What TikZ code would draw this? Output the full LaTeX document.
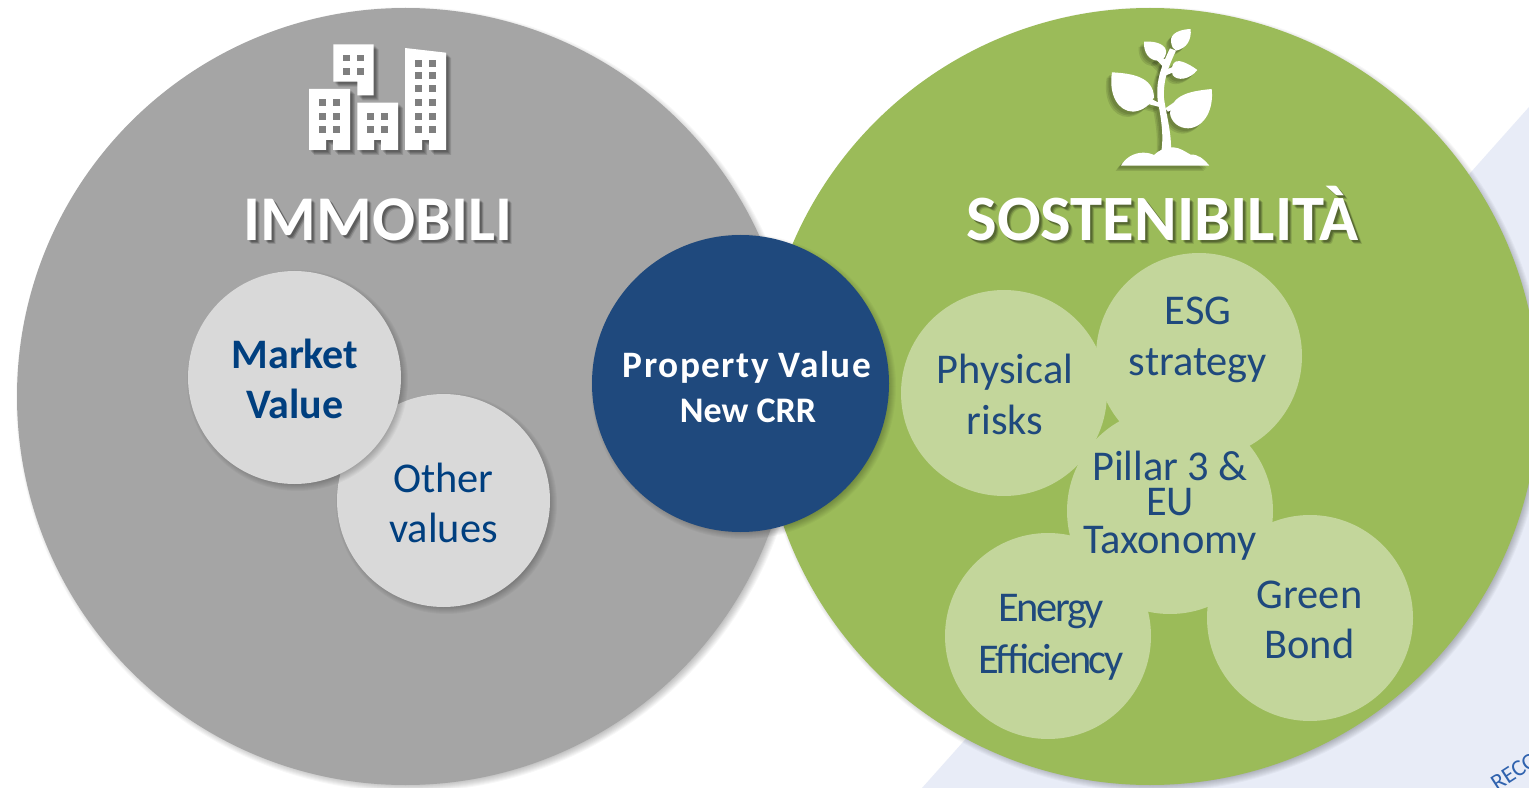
\documentclass[tikz,border=0pt]{standalone}
\usepackage{fontspec}
\setmainfont{Carlito}
\newfontfamily\tightfont[LetterSpace=-5.5]{Carlito}
\newfontfamily\widefont[LetterSpace=4,BoldFont={Carlito Bold}]{Carlito}
\definecolor{gbig}{HTML}{A5A5A5}
\definecolor{vbig}{HTML}{9BBB59}
\definecolor{navy}{HTML}{1F497D}
\definecolor{gsmall}{HTML}{D9D9D9}
\definecolor{vsmall}{HTML}{C3D69B}
\definecolor{mtext}{HTML}{003F7F}
\definecolor{band}{HTML}{E8ECF7}
\definecolor{reco}{HTML}{2F62AE}
\definecolor{win}{HTML}{7F7F7F}
\newcommand{\softshade}[3]{%
  \foreach \k in {0,1,...,7}{
    \fill[black,opacity=0.03] (#1+3,#2+3) circle ({#3+4-\k});
  }}
\newcommand{\towers}{%
  \fill (333.3,44.3) -- (373.7,44.3) -- (373.7,95.3) -- (357.3,95.3) -- (357.3,81.7) -- (333.3,81.7) -- cycle;
  \fill (309,89) -- (350,89) -- (350,150) -- (333,150) -- (333,140) -- (326,140) -- (326,150) -- (309,150) -- cycle;
  \fill (357.3,102.7) -- (398,102.7) -- (398,150) -- (381,150) -- (381,140) -- (374,140) -- (374,150) -- (357.3,150) -- cycle;
  \fill (405,48) -- (446,52.7) -- (446,150) -- (429,150) -- (429,140) -- (422,140) -- (422,150) -- (405,150) -- cycle;
}
\newcommand{\panes}{%
  \foreach \x in {343.3,357}{\foreach \y in {54.7,68.3}{\fill[win] (\x,\y) rectangle ++(6.8,6.8);}}
  \foreach \x in {319,333}{\foreach \y in {99,112.7,126.3}{\fill[win] (\x,\y) rectangle ++(7,7);}}
  \foreach \x in {367,381}{\foreach \y in {112.7,126.3}{\fill[win] (\x,\y) rectangle ++(7,7);}}
  \foreach \x in {415,429}{\foreach \y in {59.7,71.7,85.3,99,112.7,126.3}{\fill[win] (\x,\y) rectangle ++(7,7);}}
}
\newcommand{\sprout}{%
  % ground
  \fill (93,437) .. controls (105,415) and (130,398) .. (160,398) .. controls (175,398) and (185,402) .. (192,405)
    .. controls (205,392) and (225,381) .. (250,382) .. controls (270,383) and (285,395) .. (302,404)
    .. controls (325,402) and (342,418) .. (358,437) -- cycle;
  % stem
  \fill (214,395) .. controls (222,340) and (212,290) .. (203,240) .. controls (198,190) and (208,150) .. (240,85)
    -- (258,92) .. controls (230,150) and (219,190) .. (222,235) .. controls (230,290) and (245,340) .. (243,395) -- cycle;
  % branches
  \fill (180,235) -- (210,250) -- (212,262) -- (175,252) -- cycle;
  \fill (226,265) -- (255,245) -- (260,262) -- (234,275) -- cycle;
  \fill (215,155) -- (250,140) -- (255,155) -- (218,170) -- cycle;
  \fill (205,110) -- (232,120) -- (224,145) -- (198,118) -- cycle;
  % leaves
  \fill (302,27) .. controls (270,28) and (240,40) .. (243,65) .. controls (245,80) and (250,88) .. (258,92)
    .. controls (290,85) and (305,60) .. (302,27) -- cycle;
  \fill (162,65) .. controls (200,62) and (232,75) .. (228,100) .. controls (226,115) and (215,122) .. (205,122)
    .. controls (175,122) and (160,95) .. (162,65) -- cycle;
  \fill (322,150) .. controls (295,130) and (270,120) .. (258,124) .. controls (245,130) and (243,150) .. (248,165)
    .. controls (262,185) and (300,178) .. (322,150) -- cycle;
  \fill (66,157) .. controls (125,160) and (190,170) .. (192,232) .. controls (180,255) and (160,272) .. (130,275)
    .. controls (85,275) and (55,225) .. (66,157) -- cycle;
  \fill (365,207) .. controls (305,213) and (245,222) .. (240,280) .. controls (243,305) and (265,325) .. (295,325)
    .. controls (345,322) and (372,265) .. (365,207) -- cycle;
}
\tikzset{
  lbl/.style={anchor=base,inner sep=0pt,text=navy},
  big/.style={anchor=base,inner sep=0pt,font=\fontsize{48.5}{48.5}\selectfont\bfseries},
  bigi/.style={anchor=base,inner sep=0pt,font=\fontsize{47.8}{47.8}\selectfont\bfseries},
  sz/.style={font=\fontsize{31.8}{31.8}\selectfont},
  szb/.style={font=\fontsize{31.5}{31.5}\selectfont\bfseries},
}
\begin{document}
\begin{tikzpicture}[x=0.75pt,y=-0.75pt]
\useasboundingbox (0,0) rectangle (1529,788);
\clip (0,0) rectangle (1529,788);
\fill[white] (0,0) rectangle (1529,788);
\fill[band] (1529,107) -- (922,788) -- (1529,788) -- cycle;
\node[rotate=33,anchor=base west,inner sep=0pt,text=reco,font=\fontsize{17.5}{17.5}\selectfont] (recotxt) at (1497,792) {RECO};

% big circles
\softshade{1150}{396.5}{388.5}
\fill[vbig] (1150,396.5) circle (388.5);
\softshade{405.5}{396.5}{388.5}
\fill[gbig] (405.5,396.5) circle (388.5);

% icons
\begin{scope}[black,opacity=0.12]
 \foreach \d in {2,3,4,5}{\begin{scope}[shift={(\d,\d)}]\towers\end{scope}}
\end{scope}
\begin{scope}[white]\towers\panes\end{scope}
\begin{scope}[shift={(1090,20)},x=0.25pt,y=-0.25pt]
 \begin{scope}[black,opacity=0.10]
  \begin{scope}[xshift=-2pt,yshift=-2pt]\sprout\end{scope}
  \begin{scope}[xshift=-3pt,yshift=-3pt]\sprout\end{scope}
  \begin{scope}[xshift=-4pt,yshift=-4pt]\sprout\end{scope}
 \end{scope}
 \begin{scope}[white]\sprout\end{scope}
\end{scope}

% titles
\foreach \d/\o in {2/.2,3/.2,4/.12}{
  \node[bigi,text=black,opacity=\o] (immS\d) at (378+\d,240.5+\d) {IMMOBILI};
  \node[big,text=black,opacity=\o] (sosS\d) at (1162.5+\d,240.5+\d) {SOSTENIBILITÀ};
}
\node[bigi,text=white] (immobili) at (378,240.5) {IMMOBILI};
\node[big,text=white] (sostenibilita) at (1162.5,240.5) {SOSTENIBILITÀ};

% grey inner circles
\softshade{443.5}{500.5}{106.5}
\fill[gsmall] (443.5,500.5) circle (106.5);
\softshade{294.5}{377.5}{106.5}
\fill[gsmall] (294.5,377.5) circle (106.5);
\node[lbl,text=mtext,szb] (market) at (295,368.5) {Market};
\node[lbl,text=mtext,szb] (value) at (295,418.5) {Value};
\node[lbl,text=mtext,sz] (other) at (443.5,492) {Other};
\node[lbl,text=mtext,sz] (values) at (443.5,542) {values};

% green inner circles
\foreach \cx/\cy in {1004/393,1199/356,1170/511,1048/636,1310/618}{
  \fill[vsmall] (\cx,\cy) circle (103);
}
\node[lbl,sz] (physical) at (1005,383.5) {Physical};
\node[lbl,sz] (risks) at (1005,434.5) {risks};
\node[lbl,sz] (esg) at (1198,324.5) {ESG};
\node[lbl,sz] (strategy) at (1198,375.5) {strategy};
\node[lbl,sz] (pillar) at (1170,480.5) {Pillar 3 \&};
\node[lbl,sz] (eu) at (1170,515.5) {EU};
\node[lbl,sz] (taxonomy) at (1170,553.5) {Taxonomy};
\node[lbl,font=\fontsize{31.8}{31.8}\tightfont] (energy) at (1051,621.5) {Energy};
\node[lbl,font=\fontsize{31.8}{31.8}\tightfont] (efficiency) at (1051,673.5) {Efficiency};
\node[lbl,sz] (green) at (1309.5,608.5) {Green};
\node[lbl,sz] (bond) at (1309.5,658.5) {Bond};

% centre circle
\softshade{740.5}{383.5}{148.5}
\fill[navy] (740.5,383.5) circle (148.5);
\node[lbl,text=white,font=\fontsize{28}{28}\widefont\bfseries] (property) at (747,377) {Property Value};
\node[lbl,text=white,font=\fontsize{27}{27}\selectfont\bfseries] (newcrr) at (748,422) {New CRR};
\end{tikzpicture}
\end{document}
